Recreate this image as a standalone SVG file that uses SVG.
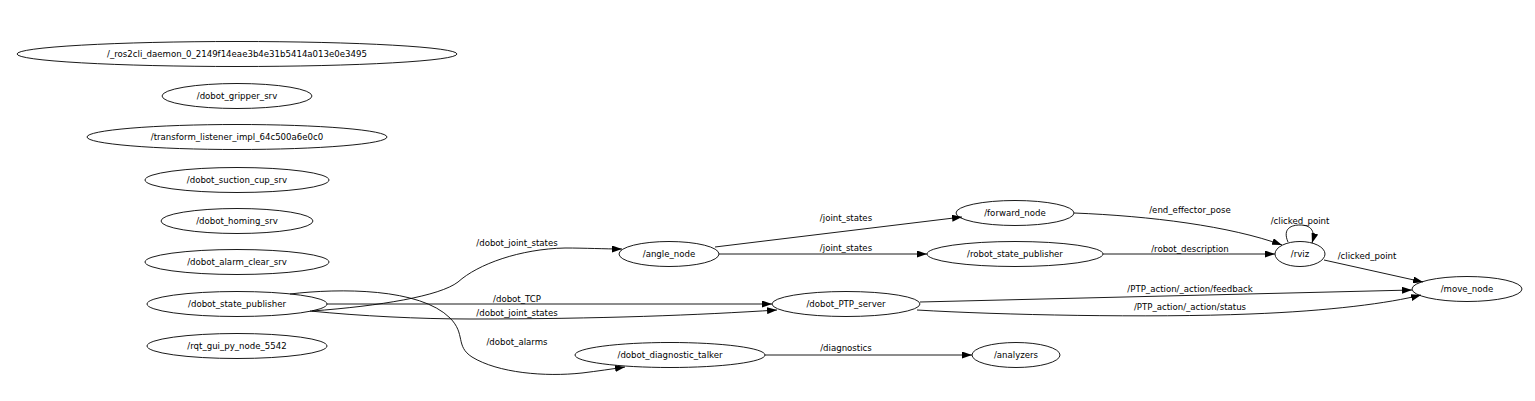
<svg xmlns="http://www.w3.org/2000/svg" width="1535" height="401" viewBox="0 0 1535 401">
<style>
.n ellipse{fill:none;stroke:#000;stroke-width:0.9}
text{font-family:"DejaVu Sans",sans-serif;font-size:8.6px;fill:#000;text-anchor:middle}
.e path{fill:none;stroke:#000;stroke-width:0.9;marker-end:url(#ah)}
</style>
<defs>
<marker id="ah" viewBox="0 0 10 7" refX="10" refY="3.5" markerWidth="10" markerHeight="7" markerUnits="userSpaceOnUse" orient="auto"><path d="M0,0 L10,3.5 L0,7 z" fill="#000"/></marker>
</defs>
<rect width="1535" height="401" fill="#fff"/>
<g id="n_daemon" class="n"><ellipse cx="237" cy="54" rx="220" ry="12.5"/><text x="237" y="57">/_ros2cli_daemon_0_2149f14eae3b4e31b5414a013e0e3495</text></g>
<g id="n_gripper" class="n"><ellipse cx="237" cy="96" rx="75" ry="12.5"/><text x="237" y="99">/dobot_gripper_srv</text></g>
<g id="n_tf" class="n"><ellipse cx="237" cy="137" rx="150" ry="12.5"/><text x="237" y="140">/transform_listener_impl_64c500a6e0c0</text></g>
<g id="n_suction" class="n"><ellipse cx="237" cy="180" rx="92" ry="12.5"/><text x="237" y="183">/dobot_suction_cup_srv</text></g>
<g id="n_homing" class="n"><ellipse cx="237" cy="221" rx="76" ry="12.5"/><text x="237" y="224">/dobot_homing_srv</text></g>
<g id="n_alarmclear" class="n"><ellipse cx="237" cy="262" rx="92" ry="12.5"/><text x="237" y="265">/dobot_alarm_clear_srv</text></g>
<g id="n_statepub" class="n"><ellipse cx="237" cy="304" rx="90" ry="12.5"/><text x="237" y="307">/dobot_state_publisher</text></g>
<g id="n_rqt" class="n"><ellipse cx="237" cy="346" rx="90" ry="12.5"/><text x="237" y="349">/rqt_gui_py_node_5542</text></g>
<g id="n_angle" class="n"><ellipse cx="669" cy="254" rx="50" ry="12.5"/><text x="669" y="257">/angle_node</text></g>
<g id="n_diag" class="n"><ellipse cx="670" cy="355" rx="95" ry="12.5"/><text x="670" y="358">/dobot_diagnostic_talker</text></g>
<g id="n_forward" class="n"><ellipse cx="1015" cy="213" rx="59" ry="12.5"/><text x="1015" y="216">/forward_node</text></g>
<g id="n_rsp" class="n"><ellipse cx="1015" cy="254" rx="88" ry="12.5"/><text x="1015" y="257">/robot_state_publisher</text></g>
<g id="n_ptp" class="n"><ellipse cx="846" cy="304" rx="74" ry="12.5"/><text x="846" y="307">/dobot_PTP_server</text></g>
<g id="n_analyzers" class="n"><ellipse cx="1016" cy="355" rx="44" ry="12.5"/><text x="1016" y="358">/analyzers</text></g>
<g id="n_rviz" class="n"><ellipse cx="1300" cy="254" rx="25" ry="12.5"/><text x="1300" y="257">/rviz</text></g>
<g id="n_move" class="n"><ellipse cx="1467" cy="289" rx="55" ry="12.5"/><text x="1467" y="292">/move_node</text></g>
<g id="edges" class="e">
<path d="M312,311 C380,306 440,296 458,282 C478,264 520,249 565,248 C585,248 605,249 622,249"/>
<text x="517" y="246">/dobot_joint_states</text>
<path d="M327,304 L772,304"/>
<text x="517" y="302">/dobot_TCP</text>
<path d="M310,311 C360,316 420,319 470,319 C600,319 700,315 777,310"/>
<text x="517" y="316">/dobot_joint_states</text>
<path d="M290,294 C340,288 420,288 450,318 C466,334 455,346 472,357 C498,373 545,377 582,373 C598,371 612,369 625,367"/>
<text x="517" y="345">/dobot_alarms</text>
<path d="M715,247 L962,217"/>
<text x="846" y="221">/joint_states</text>
<path d="M719,254 L927,254"/>
<text x="846" y="251">/joint_states</text>
<path d="M765,355 L972,355"/>
<text x="846" y="351">/diagnostics</text>
<path d="M1074,213 C1150,216 1230,226 1282,245"/>
<text x="1190" y="213">/end_effector_pose</text>
<path d="M1103,254 L1275,254"/>
<text x="1190" y="252">/robot_description</text>
<path d="M1288,242 C1282,228 1292,225 1300,225 C1310,225 1316,230 1312,243"/>
<text x="1300" y="224">/clicked_point</text>
<path d="M1324,260 L1423,282"/>
<text x="1367" y="259">/clicked_point</text>
<path d="M920,302 L1412,290"/>
<text x="1190" y="292">/PTP_action/_action/feedback</text>
<path d="M917,310 C1000,315 1150,318 1250,314 C1330,311 1390,303 1421,295"/>
<text x="1190" y="310">/PTP_action/_action/status</text>
</g>
</svg>
